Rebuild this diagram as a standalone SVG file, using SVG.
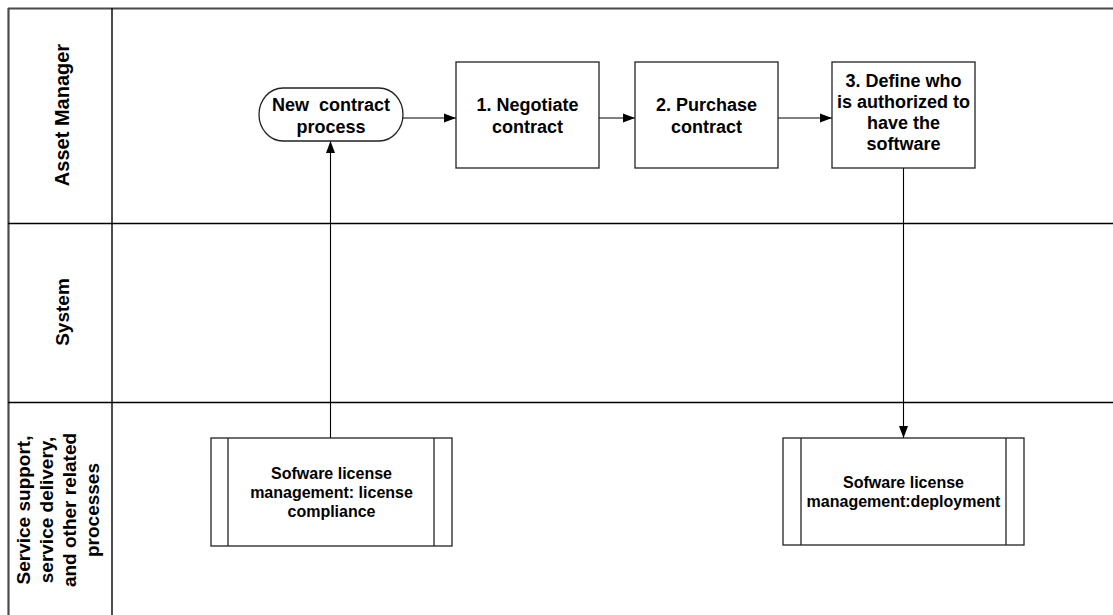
<svg xmlns="http://www.w3.org/2000/svg" width="1113" height="615" viewBox="0 0 1113 615">
<style>
.lane{stroke:#000;stroke-width:1.4;fill:none}
.frame{stroke:#4a4a4a;stroke-width:2.2;fill:none}
.node{fill:#fff;stroke:#222;stroke-width:1.3}
.inner{stroke:#222;stroke-width:1.3;fill:none}
.conn{stroke:#000;stroke-width:1.1;fill:none}
.lbl{font-family:"Liberation Sans",Arial,sans-serif;font-weight:bold;font-size:19px;fill:#000;text-anchor:middle}
.t{font-family:"Liberation Sans",Arial,sans-serif;font-weight:bold;font-size:18px;fill:#000;text-anchor:middle}
.ts{font-family:"Liberation Sans",Arial,sans-serif;font-weight:bold;font-size:16px;fill:#000;text-anchor:middle}
</style>
<defs>
<marker id="arr" viewBox="0 0 12 10" refX="12" refY="5" markerWidth="12" markerHeight="10" markerUnits="userSpaceOnUse" orient="auto">
<path d="M0,0.5 L12,5 L0,9.5 Z" fill="#000"/>
</marker>
</defs>
<rect width="1113" height="615" fill="#fff"/>
<g id="lanes">
<line class="frame" x1="8" y1="8.5" x2="1113" y2="8.5"/>
<line class="frame" x1="8.5" y1="8" x2="8.5" y2="615"/>
<line class="lane" x1="112" y1="8" x2="112" y2="615"/>
<line class="lane" x1="8" y1="223.5" x2="1113" y2="223.5"/>
<line class="lane" x1="8" y1="402.5" x2="1113" y2="402.5"/>
<text class="lbl" transform="rotate(-90 69 115)" x="69" y="115" style="font-size:20px">Asset Manager</text>
<text class="lbl" transform="rotate(-90 69 312)" x="69" y="312">System</text>
<g transform="rotate(-90 60 510)">
<text class="lbl" x="60" y="480">Service support,</text>
<text class="lbl" x="60" y="503">service delivery,</text>
<text class="lbl" x="60" y="526">and other related</text>
<text class="lbl" x="60" y="549">processes</text>
</g>
</g>
<g id="connectors">
<line class="conn" x1="403" y1="118" x2="456" y2="118" marker-end="url(#arr)"/>
<line class="conn" x1="599" y1="118" x2="635" y2="118" marker-end="url(#arr)"/>
<line class="conn" x1="778" y1="118" x2="832" y2="118" marker-end="url(#arr)"/>
<line class="conn" x1="903.5" y1="168" x2="903.5" y2="438" marker-end="url(#arr)"/>
<line class="conn" x1="330.5" y1="438" x2="330.5" y2="141" marker-end="url(#arr)"/>
</g>
<g id="start">
<rect class="node" x="259" y="88" width="144" height="53" rx="24" ry="26.5"/>
<text class="t" x="331" y="110.5" xml:space="preserve">New  contract</text>
<text class="t" x="331" y="132.5">process</text>
</g>
<g id="negotiate">
<rect class="node" x="456" y="62" width="143" height="106"/>
<text class="t" x="527.5" y="110.5">1. Negotiate</text>
<text class="t" x="527.5" y="132.5">contract</text>
</g>
<g id="purchase">
<rect class="node" x="635" y="62" width="143" height="106"/>
<text class="t" x="706.5" y="110.5">2. Purchase</text>
<text class="t" x="706.5" y="132.5">contract</text>
</g>
<g id="define">
<rect class="node" x="832" y="62" width="143" height="106"/>
<text class="t" x="903.5" y="87">3. Define who</text>
<text class="t" x="903.5" y="108">is authorized to</text>
<text class="t" x="903.5" y="129">have the</text>
<text class="t" x="903.5" y="150">software</text>
</g>
<g id="compliance">
<rect class="node" x="211" y="438" width="241" height="108"/>
<line class="inner" x1="228" y1="438" x2="228" y2="546"/>
<line class="inner" x1="434" y1="438" x2="434" y2="546"/>
<text class="ts" x="331.5" y="478.5">Sofware license</text>
<text class="ts" x="331.5" y="497.5">management: license</text>
<text class="ts" x="331.5" y="516.5">compliance</text>
</g>
<g id="deployment">
<rect class="node" x="783" y="438" width="241" height="107"/>
<line class="inner" x1="801" y1="438" x2="801" y2="545"/>
<line class="inner" x1="1006" y1="438" x2="1006" y2="545"/>
<text class="ts" x="903.5" y="487.5">Sofware license</text>
<text class="ts" x="903.5" y="506.5">management:deployment</text>
</g>
</svg>
